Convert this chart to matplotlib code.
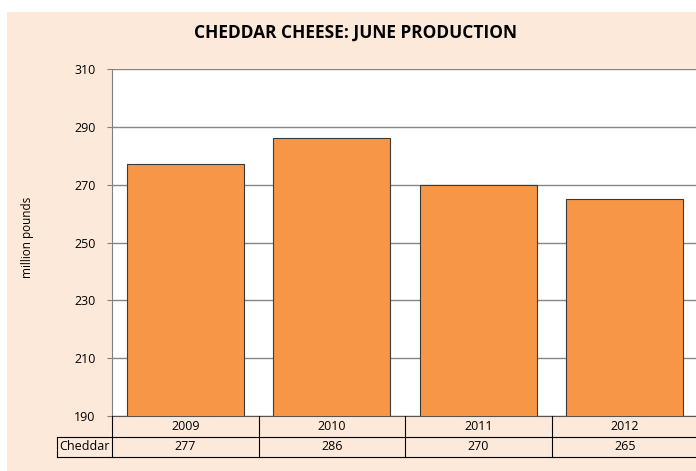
import matplotlib.pyplot as plt
from matplotlib.patches import Rectangle
from matplotlib.lines import Line2D

years = ['2009', '2010', '2011', '2012']
cheddar = [277, 286, 270, 265]
yticks = [190, 210, 230, 250, 270, 290, 310]

plt.rcParams['font.family'] = ['Open Sans', 'DejaVu Sans']

W, H = 696, 471
fig = plt.figure(figsize=(W / 100, H / 100), dpi=100)
fig.patch.set_facecolor('white')

# peach chart area
bg = Rectangle((7 / W, 0), 1, 1 - 12 / H, transform=fig.transFigure,
               facecolor='#FDE9D9', edgecolor='none', zorder=-10)
fig.add_artist(bg)

left, right, top, bottom = 112 / W, 698 / W, 69 / H, 416 / H
ax = fig.add_axes([left, 1 - bottom, right - left, bottom - top])
ax.set_zorder(1)
ax.set_facecolor('white')

x = range(len(years))
ax.bar(x, cheddar, width=0.8, color='#F79646', edgecolor='#3a3a3a', linewidth=0.8, zorder=3)
ax.set_xlim(-0.5, len(years) - 0.5)
ax.set_ylim(190, 310)
ax.set_yticks(yticks)
ax.set_yticklabels([str(t) for t in yticks], fontsize=9)
ax.yaxis.grid(True, color='#868686', linewidth=1.0, zorder=0)
ax.set_xticks([])
ax.tick_params(axis='y', length=3.8, color='#808080', pad=8)
for s in ['top', 'right']:
    ax.spines[s].set_visible(False)
ax.spines['left'].set_color('#808080')
ax.spines['bottom'].set_color('#555555')

fig.text(27 / W, 1 - 237 / H, 'million pounds', rotation=90,
         ha='center', va='center', fontsize=8.5)
fig.text(355 / W, 1 - 33 / H, 'CHEDDAR CHEESE: JUNE PRODUCTION',
         ha='center', va='center', fontsize=12.5, fontweight='bold')

# data table below the plot
r0, r1, r2 = 416, 437, 457
cell_w = (right - left) / len(years)
lk = dict(color='black', linewidth=0.8, transform=fig.transFigure)
fig.add_artist(Line2D([57 / W, 1], [1 - r1 / H] * 2, **lk))
fig.add_artist(Line2D([57 / W, 1], [1 - r2 / H] * 2, **lk))
fig.add_artist(Line2D([57 / W, 57 / W], [1 - r1 / H, 1 - r2 / H], **lk))
for i in range(len(years) + 1):
    xx = left + i * cell_w
    fig.add_artist(Line2D([xx, xx], [1 - r0 / H, 1 - r2 / H], **lk))
for i, (yr, v) in enumerate(zip(years, cheddar)):
    cx = left + (i + 0.5) * cell_w
    fig.text(cx, 1 - (r0 + r1) / 2 / H, yr, ha='center', va='center', fontsize=9)
    fig.text(cx, 1 - (r1 + r2) / 2 / H, str(v), ha='center', va='center', fontsize=9)
fig.text((57 / W + left) / 2, 1 - (r1 + r2) / 2 / H, 'Cheddar', ha='center', va='center', fontsize=9)

fig.savefig('out.png', dpi=100)
